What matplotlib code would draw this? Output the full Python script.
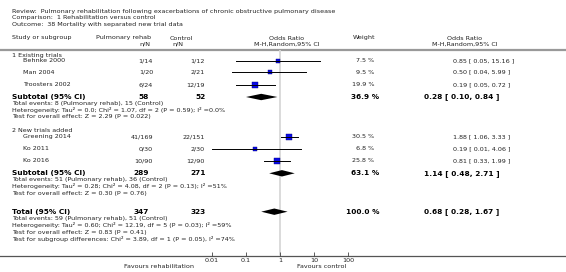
import numpy as np
import matplotlib
matplotlib.use("Agg")
import matplotlib.pyplot as plt

# study level data
studies = ["Behnke 2000", "Man 2004", "Troosters 2002", "Greening 2014", "Ko 2011", "Ko 2016"]
rehab_nN = ["1/14", "1/20", "6/24", "41/169", "0/30", "10/90"]
control_nN = ["1/12", "2/21", "12/19", "22/151", "2/30", "12/90"]
weights = [7.5, 9.5, 19.9, 30.5, 6.8, 25.8]
odds = [0.85, 0.50, 0.19, 1.88, 0.19, 0.81]
lower = [0.05, 0.04, 0.05, 1.06, 0.01, 0.33]
upper = [15.16, 5.99, 0.72, 3.33, 4.06, 1.99]

# subtotals and total
sub_names = ["1 Existing trials", "2 New trials added"]
sub_rehab_n = [58, 289]
sub_control_n = [52, 271]
sub_weight = [36.9, 63.1]
sub_odds = [0.28, 1.14]
sub_lower = [0.10, 0.48]
sub_upper = [0.84, 2.71]
sub_notes = [
    ["Total events: 8 (Pulmonary rehab), 15 (Control)",
     "Heterogeneity: Tau\u00b2 = 0.0; Chi\u00b2 = 1.07, df = 2 (P = 0.59); I\u00b2 =0.0%",
     "Test for overall effect: Z = 2.29 (P = 0.022)"],
    ["Total events: 51 (Pulmonary rehab), 36 (Control)",
     "Heterogeneity: Tau\u00b2 = 0.28; Chi\u00b2 = 4.08, df = 2 (P = 0.13); I\u00b2 =51%",
     "Test for overall effect: Z = 0.30 (P = 0.76)"],
]
tot_rehab_n = 347
tot_control_n = 323
tot_weight = 100.0
tot_odds, tot_lower, tot_upper = 0.68, 0.28, 1.67
tot_notes = ["Total events: 59 (Pulmonary rehab), 51 (Control)",
             "Heterogeneity: Tau\u00b2 = 0.60; Chi\u00b2 = 12.19, df = 5 (P = 0.03); I\u00b2 =59%",
             "Test for overall effect: Z = 0.83 (P = 0.41)",
             "Test for subgroup differences: Chi\u00b2 = 3.89, df = 1 (P = 0.05), I\u00b2 =74%"]

header = ["Review:  Pulmonary rehabilitation following exacerbations of chronic obstructive pulmonary disease",
          "Comparison:  1 Rehabilitation versus control",
          "Outcome:  38 Mortality with separated new trial data"]
ticks = [0.01, 0.1, 1, 10, 100]
tick_labels = ["0.01", "0.1", "1", "10", "100"]

# row positions (pixels from top)
study_y = [60.7, 72.3, 85, 136.7, 149, 161]
group_y = [55, 131]
sub_y = [97, 173.3]
tot_y = 211.7

W, H = 566, 272
TXT = "#222222"
FS = 4.6
FSB = 5.3

fig = plt.figure(figsize=(W / 100, H / 100), dpi=100)
ax = fig.add_axes([0, 0, 1, 1])
ax.set_xlim(0, W)
ax.set_ylim(H, 0)
ax.axis("off")

# plot panel: 1 at x=280 px, 34 px per decade
px0, px1 = 200, 372
ytop, ybot = 50, 256
dec = 34.0
axp = fig.add_axes([px0 / W, (H - ybot) / H, (px1 - px0) / W, (ybot - ytop) / H])
axp.set_xscale("log")
axp.set_xlim(10 ** ((px0 - 280) / dec), 10 ** ((px1 - 280) / dec))
axp.set_ylim(ybot, ytop)
axp.patch.set_alpha(0)
for s in axp.spines.values():
    s.set_visible(False)
axp.set_yticks([])
axp.set_xticks(ticks)
axp.set_xticklabels(tick_labels)
axp.minorticks_off()
axp.tick_params(axis="x", direction="in", length=3, width=0.6, color="#444444",
                labelsize=FS, labelcolor=TXT, pad=1.2)
axp.axvline(1, color="#d8d8d8", lw=1.3, zorder=0)

# header text
for i, line in enumerate(header):
    ax.text(12, 11 + i * 6.6, line, fontsize=FS, color=TXT, va="center")
ax.text(12, 38, "Study or subgroup", fontsize=FS, color=TXT, va="center")
ax.text(151, 38, "Pulmonary rehab", fontsize=FS, color=TXT, va="center", ha="right")
ax.text(150, 44, "n/N", fontsize=FS, color=TXT, va="center", ha="right")
ax.text(193, 38, "Control", fontsize=FS, color=TXT, va="center", ha="right")
ax.text(183.5, 44, "n/N", fontsize=FS, color=TXT, va="center", ha="right")
ax.text(287, 38, "Odds Ratio", fontsize=FS, color=TXT, va="center", ha="center")
ax.text(287, 44, "M-H,Random,95% CI", fontsize=FS, color=TXT, va="center", ha="center")
ax.text(375, 38, "Weight", fontsize=FS, color=TXT, va="center", ha="right")
ax.text(465, 38, "Odds Ratio", fontsize=FS, color=TXT, va="center", ha="center")
ax.text(465, 44, "M-H,Random,95% CI", fontsize=FS, color=TXT, va="center", ha="center")
ax.plot([0, W], [49.5, 49.5], color="#999999", lw=1.6)
ax.plot([0, W], [256, 256], color="#555555", lw=0.9)

# group headings
for g, y in zip(sub_names, group_y):
    ax.text(12, y, g, fontsize=FS, color=TXT, va="center")

# studies
for i in range(len(studies)):
    y = study_y[i]
    ax.text(23, y, studies[i], fontsize=FS, color=TXT, va="center")
    ax.text(153, y, rehab_nN[i], fontsize=FS, color=TXT, va="center", ha="right")
    ax.text(205, y, control_nN[i], fontsize=FS, color=TXT, va="center", ha="right")
    ax.text(374, y, "%.1f %%" % weights[i], fontsize=FS, color=TXT, va="center", ha="right")
    ax.text(453, y, "%.2f [ %.2f, %.2f ]" % (odds[i], lower[i], upper[i]),
            fontsize=FS, color=TXT, va="center")
    axp.plot([lower[i], upper[i]], [y, y], color="black", lw=0.7, zorder=3)
    side = 1.25 * np.sqrt(weights[i]) / 1.389
    axp.plot([odds[i]], [y], marker="s", ms=side, color="#0a0ae6",
             mec="#000080", mew=0.3, zorder=2)


def diamond(est, lo, hi, y):
    axp.fill([lo, est, hi, est], [y, y - 3.2, y, y + 3.2], color="black", lw=0, zorder=3)


# subtotals
for k in range(2):
    y = sub_y[k]
    ax.text(12, y, "Subtotal (95% CI)", fontsize=FSB, fontweight="bold", color="black", va="center")
    ax.text(149, y, str(sub_rehab_n[k]), fontsize=FSB, fontweight="bold", color="black", va="center", ha="right")
    ax.text(206, y, str(sub_control_n[k]), fontsize=FSB, fontweight="bold", color="black", va="center", ha="right")
    ax.text(379, y, "%.1f %%" % sub_weight[k], fontsize=FSB, fontweight="bold", color="black", va="center", ha="right")
    ax.text(424, y, "%.2f [ %.2f, %.2f ]" % (sub_odds[k], sub_lower[k], sub_upper[k]),
            fontsize=FSB, fontweight="bold", color="black", va="center")
    diamond(sub_odds[k], sub_lower[k], sub_upper[k], y)
    for j, line in enumerate(sub_notes[k]):
        ax.text(12, y + 6.3 + j * 6.7, line, fontsize=FS, color=TXT, va="center")

# total
ax.text(12, tot_y, "Total (95% CI)", fontsize=FSB, fontweight="bold", color="black", va="center")
ax.text(149, tot_y, str(tot_rehab_n), fontsize=FSB, fontweight="bold", color="black", va="center", ha="right")
ax.text(206, tot_y, str(tot_control_n), fontsize=FSB, fontweight="bold", color="black", va="center", ha="right")
ax.text(379, tot_y, "%.1f %%" % tot_weight, fontsize=FSB, fontweight="bold", color="black", va="center", ha="right")
ax.text(424, tot_y, "%.2f [ %.2f, %.2f ]" % (tot_odds, tot_lower, tot_upper),
        fontsize=FSB, fontweight="bold", color="black", va="center")
diamond(tot_odds, tot_lower, tot_upper, tot_y)
for j, line in enumerate(tot_notes):
    ax.text(12, tot_y + 6.6 + j * 6.9, line, fontsize=FS, color=TXT, va="center")

# favours labels
ax.text(194, 266.3, "Favours rehabilitation", fontsize=FS, color=TXT, va="center", ha="right")
ax.text(297, 266.3, "Favours control", fontsize=FS, color=TXT, va="center", ha="left")

fig.savefig("out.png", dpi=100)
